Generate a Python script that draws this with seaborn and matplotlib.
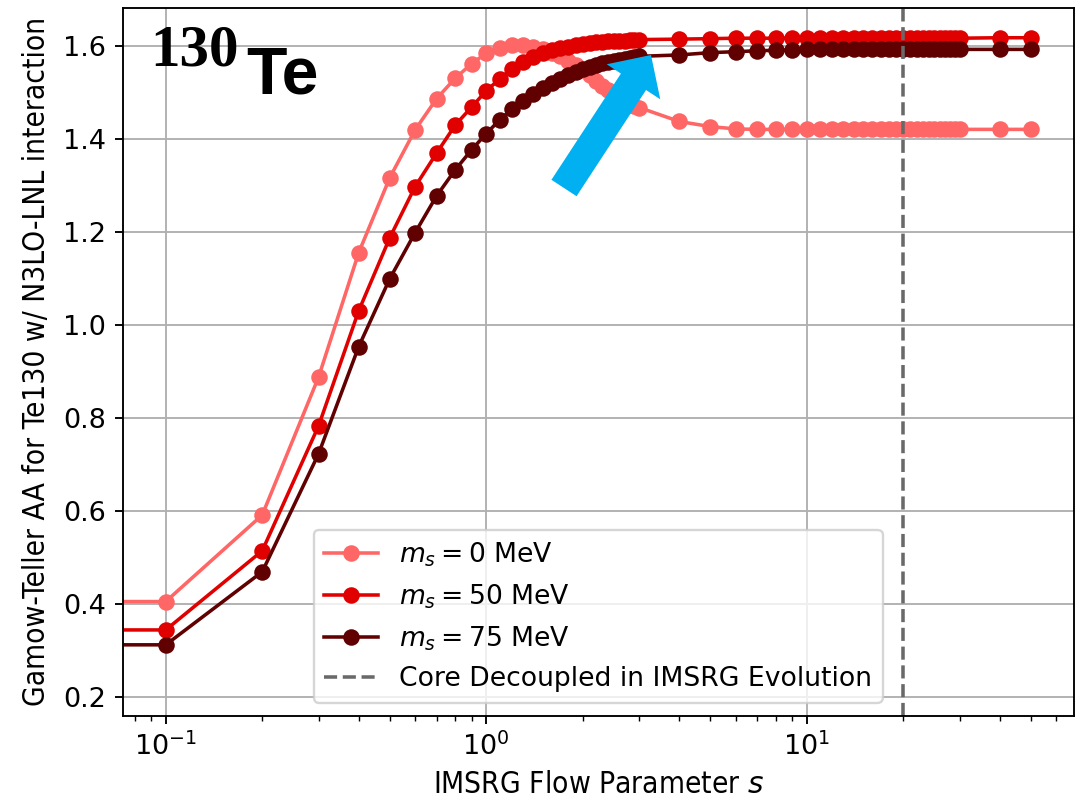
import numpy as np
import pandas as pd
import matplotlib
matplotlib.use("Agg")
import matplotlib.pyplot as plt
import matplotlib.transforms as mtransforms
from matplotlib.patches import FancyArrow
import seaborn as sns

# ---------------- data ----------------
flow_s = [0,
          0.1, 0.2, 0.3, 0.4, 0.5, 0.6, 0.7, 0.8, 0.9, 1.0,
          1.1, 1.2, 1.3, 1.4, 1.5, 1.6, 1.7, 1.8, 1.9, 2.0,
          2.1, 2.2, 2.3, 2.4, 2.5, 2.6, 2.7, 2.8, 2.9, 3.0,
          4, 5, 6, 7, 8, 9, 10, 11, 12, 13,
          14, 15, 16, 17, 18, 19, 20, 21, 22, 23,
          24, 25, 26, 27, 28, 29, 30,
          40, 50]

gt_ms0 = [0.405,
          0.405, 0.591, 0.888, 1.155, 1.316, 1.419, 1.486, 1.530, 1.561, 1.584,
          1.596, 1.601, 1.601, 1.598, 1.592, 1.585, 1.577, 1.568, 1.558, 1.548,
          1.537, 1.525, 1.514, 1.504, 1.495, 1.488, 1.481, 1.476, 1.471, 1.467,
          1.437, 1.426, 1.421, 1.420, 1.420, 1.420, 1.420, 1.420, 1.420, 1.420,
          1.420, 1.420, 1.420, 1.420, 1.420, 1.420, 1.420, 1.420, 1.420, 1.420,
          1.420, 1.420, 1.420, 1.420, 1.420, 1.420, 1.420,
          1.420, 1.420]

gt_ms50 = [0.344,
           0.344, 0.514, 0.783, 1.030, 1.187, 1.297, 1.369, 1.429, 1.468, 1.503,
           1.528, 1.550, 1.565, 1.576, 1.584, 1.590, 1.594, 1.598, 1.601, 1.603,
           1.605, 1.607, 1.608, 1.609, 1.610, 1.611, 1.611, 1.612, 1.612, 1.613,
           1.614, 1.615, 1.616, 1.616, 1.616, 1.616, 1.616, 1.616, 1.616, 1.616,
           1.616, 1.616, 1.616, 1.616, 1.616, 1.616, 1.616, 1.616, 1.616, 1.616,
           1.616, 1.616, 1.616, 1.616, 1.616, 1.616, 1.616,
           1.617, 1.617]

gt_ms75 = [0.312,
           0.312, 0.469, 0.723, 0.953, 1.099, 1.198, 1.277, 1.333, 1.376, 1.411,
           1.440, 1.463, 1.481, 1.497, 1.509, 1.520, 1.529, 1.537, 1.544, 1.549,
           1.554, 1.558, 1.562, 1.565, 1.567, 1.570, 1.572, 1.574, 1.575, 1.577,
           1.580, 1.585, 1.587, 1.589, 1.590, 1.591, 1.592, 1.592, 1.592, 1.592,
           1.592, 1.592, 1.592, 1.592, 1.592, 1.592, 1.592, 1.592, 1.592, 1.592,
           1.592, 1.592, 1.592, 1.592, 1.592, 1.592, 1.592,
           1.592, 1.592]

series_values = [gt_ms0, gt_ms50, gt_ms75]
series_labels = [r"$m_s = 0$ MeV", r"$m_s = 50$ MeV", r"$m_s = 75$ MeV"]
series_colors = ["#ff6666", "#e00000", "#600000"]

core_decoupled_s = 20
vline_label = "Core Decoupled in IMSRG Evolution"
x_label = r"IMSRG Flow Parameter $s$"
y_label = "Gamow-Teller AA for Te130 w/ N3LO-LNL interaction"
y_ticks = [0.2, 0.4, 0.6, 0.8, 1.0, 1.2, 1.4, 1.6]
nucleus_mass = "130"
nucleus_symbol = "Te"

for v in series_values:
    assert len(v) == len(flow_s)

# ---------------- figure ----------------
DPI = 170
W, H = 1089, 806
fig = plt.figure(figsize=(W / DPI, H / DPI), dpi=DPI)
fig.patch.set_facecolor("white")
ax = fig.add_axes([122.5 / W, (H - 716) / H, 951.5 / W, (716 - 7.5) / H])

for vals, lab, col in zip(series_values, series_labels, series_colors):
    df = pd.DataFrame({"s": flow_s, "gt": vals})
    sns.lineplot(data=df, x="s", y="gt", ax=ax, color=col, label=lab,
                 marker="o", markersize=7, markeredgewidth=0,
                 linewidth=1.5, errorbar=None)

ax.axvline(core_decoupled_s, color="dimgray", linestyle="--", linewidth=1.5,
           label=vline_label)

ax.set_xscale("log")
ax.set_xlim(0.0733, 68.2)
ax.set_ylim(0.159, 1.682)
ax.set_yticks(y_ticks)
ax.tick_params(axis="both", which="major", labelsize=11.5)
ax.grid(True, which="major", color="#b0b0b0", linewidth=0.8)
ax.set_xlabel(x_label, fontsize=12.6, fontstretch="condensed", labelpad=4)
ax.set_ylabel(y_label, fontsize=12.6, fontstretch="condensed", labelpad=5)
ax.legend(loc="lower center", fontsize=11.3)

# nucleus annotation
fig.text(150 / W, (H - 65) / H, nucleus_mass, family="Liberation Serif",
         fontweight="bold", fontsize=25, ha="left", va="baseline")
fig.text(246 / W, (H - 93) / H, nucleus_symbol, family="Liberation Sans",
         fontweight="bold", fontsize=28, ha="left", va="baseline")

# blue block arrow (pixel coordinates)
arrow = FancyArrow(564, H - 188, 87, 133, width=30, head_width=64,
                   head_length=32, length_includes_head=True,
                   color="#00b0f0", linewidth=0,
                   transform=mtransforms.IdentityTransform())
fig.add_artist(arrow)

fig.savefig("out.png", dpi=DPI)
